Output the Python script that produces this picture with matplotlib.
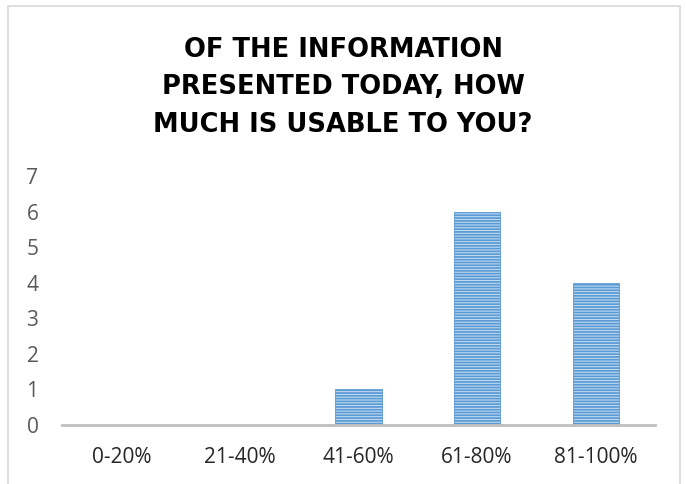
import matplotlib
matplotlib.use("Agg")
import matplotlib.pyplot as plt
from matplotlib.patches import Rectangle

categories = ["0-20%", "21-40%", "41-60%", "61-80%", "81-100%"]
values = [0, 0, 1, 6, 4]
yticks = [0, 1, 2, 3, 4, 5, 6, 7]
title_lines = ["OF THE INFORMATION", "PRESENTED TODAY, HOW", "MUCH IS USABLE TO YOU?"]

plt.rcParams['font.family'] = ['Open Sans', 'DejaVu Sans']
plt.rcParams['hatch.linewidth'] = 1.3
plt.rcParams['hatch.color'] = '#5B9BD5'

W, H = 686, 484
fig = plt.figure(figsize=(W / 100, H / 100), dpi=100)
fig.patch.set_facecolor('white')

# outer chart border
fig.patches.append(Rectangle((8 / W, -0.05), (680 - 8) / W, 1 - 6 / H + 0.05,
                             transform=fig.transFigure, fill=False,
                             edgecolor='#D9D9D9', linewidth=1.2))

ax = fig.add_axes([62 / W, 1 - 425 / H, (655 - 62) / W, (425 - 176) / H])
x = range(len(categories))
ax.bar(x, values, width=0.39, color='#C9DFF3', edgecolor='#5B9BD5',
       linewidth=0.6, hatch='------')
ax.set_xlim(-0.5, len(categories) - 0.5)
ax.set_ylim(0, 7)
ax.set_yticks(yticks)
ax.set_xticks(list(x))
ax.set_xticklabels(categories)
for s in ['top', 'right', 'left']:
    ax.spines[s].set_visible(False)
ax.spines['bottom'].set_color('#BFBFBF')
ax.spines['bottom'].set_linewidth(2)
ax.tick_params(axis='both', length=0, labelsize=15)
ax.tick_params(axis='x', pad=16, colors='#262626')
ax.tick_params(axis='y', pad=17, colors='#595959')

title_y = [50, 87.5, 125]
for line, yy in zip(title_lines, title_y):
    fig.text(0.5, 1 - yy / H, line, ha='center', va='center',
             fontsize=18.5, fontweight='bold', color='black',
             family=['DejaVu Sans'])

fig.savefig('out.png', dpi=100)
